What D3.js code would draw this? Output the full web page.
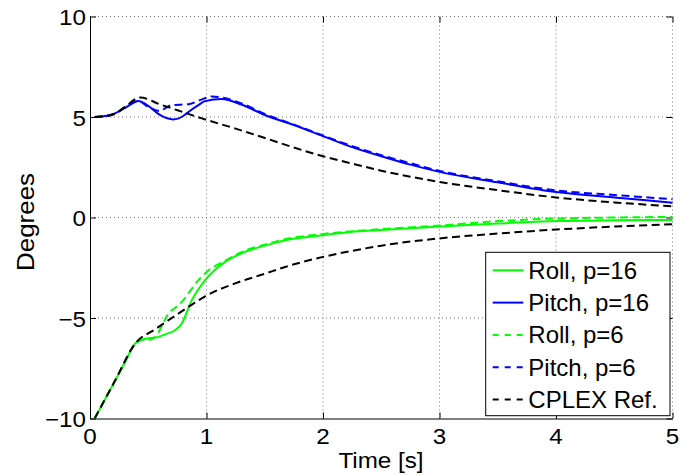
<!DOCTYPE html>
<html>
<head>
<meta charset="utf-8">
<script src="https://cdn.jsdelivr.net/npm/d3@7"></script>
<style>
  body { margin: 0; background: #fff; }
  text { font-family: "Liberation Sans", Arial, sans-serif; fill: #000; }
</style>
</head>
<body>
<div id="chart"></div>
<script>

var tRoll16  = [0.04, 0.12, 0.2, 0.3, 0.387, 0.458, 0.587, 0.65, 0.73, 0.788, 0.874, 0.988, 1.16, 1.33, 1.5, 1.675, 2.0, 2.23, 2.5, 3.0, 3.5, 4.0, 4.5, 5.0];
var roll16   = [-10, -9.14, -8.28, -7.2, -6.27, -6.07, -5.94, -5.8, -5.61, -5.27, -4.11, -3.12, -2.21, -1.71, -1.4, -1.13, -0.88, -0.72, -0.62, -0.45, -0.3, -0.18, -0.14, -0.12];

var tPitch16 = [0.04, 0.1, 0.21, 0.3, 0.415, 0.5, 0.6, 0.716, 0.8, 0.845, 0.92, 0.988, 1.13, 1.3, 1.5, 1.75, 2.0, 2.25, 2.5, 2.75, 3.0, 3.5, 4.0, 4.5, 5.0];
var pitch16  = [5.0, 5.02, 5.17, 5.45, 5.8, 5.55, 5.1, 4.88, 5.05, 5.25, 5.55, 5.79, 5.9, 5.62, 5.1, 4.6, 4.05, 3.5, 3.05, 2.63, 2.27, 1.75, 1.27, 1.0, 0.73];

var tRoll6   = [0.04, 0.12, 0.2, 0.3, 0.387, 0.458, 0.5, 0.573, 0.62, 0.673, 0.73, 0.788, 0.86, 0.93, 1.02, 1.16, 1.33, 1.5, 1.675, 2.0, 2.5, 3.0, 3.5, 4.0, 4.5, 5.0];
var roll6    = [-10, -9.14, -8.28, -7.2, -6.27, -6.07, -6.1, -5.86, -5.35, -4.78, -4.5, -4.2, -3.65, -3.12, -2.62, -2.15, -1.65, -1.35, -1.08, -0.82, -0.58, -0.4, -0.18, -0.05, 0.0, 0.03];

var tPitch6  = [0.04, 0.1, 0.21, 0.3, 0.415, 0.5, 0.6, 0.65, 0.7, 0.85, 0.95, 1.05, 1.13, 1.3, 1.5, 1.75, 2.0, 2.25, 2.5, 2.75, 3.0, 3.5, 4.0, 4.5, 5.0];
var pitch6   = [5.0, 5.02, 5.17, 5.45, 5.8, 5.5, 5.3, 5.45, 5.59, 5.64, 5.85, 6.02, 5.97, 5.68, 5.15, 4.62, 4.08, 3.55, 3.1, 2.7, 2.32, 1.8, 1.35, 1.12, 0.91];

var tCplexR  = [0.04, 0.2, 0.4, 0.55, 0.673, 0.845, 0.988, 1.245, 1.5, 1.675, 2.0, 2.25, 2.5, 3.0, 3.5, 4.0, 4.5, 5.0];
var cplexR   = [-10, -8.28, -6.19, -5.6, -5.11, -4.45, -3.92, -3.28, -2.8, -2.46, -1.96, -1.66, -1.4, -1.04, -0.8, -0.6, -0.45, -0.33];

var tCplexP  = [0.04, 0.1, 0.21, 0.3, 0.43, 0.6, 0.8, 0.96, 1.25, 1.53, 1.75, 2.0, 2.25, 2.5, 2.75, 3.0, 3.5, 4.0, 4.5, 5.0];
var cplexP   = [5.0, 5.02, 5.15, 5.5, 5.97, 5.63, 5.24, 4.93, 4.42, 3.9, 3.48, 3.05, 2.68, 2.33, 2.03, 1.77, 1.36, 1.0, 0.75, 0.56];

var xTicks = [0, 1, 2, 3, 4, 5];
var xTickLabels = ['0', '1', '2', '3', '4', '5'];
var yTicks = [-10, -5, 0, 5, 10];
var yTickLabels = ['\u221210', '\u22125', '0', '5', '10'];

var legendLabels = ['Roll, p=16', 'Pitch, p=16', 'Roll, p=6', 'Pitch, p=6', 'CPLEX Ref.'];

function pairs(t, v) {
  return t.map(function(d, i) { return [d, v[i]]; });
}

var series = [
  { name: legendLabels[0], pts: pairs(tRoll16, roll16),   color: '#00ff00', dash: null },
  { name: legendLabels[1], pts: pairs(tPitch16, pitch16), color: '#0000ff', dash: null },
  { name: legendLabels[2], pts: pairs(tRoll6, roll6),     color: '#00ff00', dash: '8,4.5' },
  { name: legendLabels[3], pts: pairs(tPitch6, pitch6),   color: '#0000ff', dash: '8,4.5' },
  { name: legendLabels[4], pts: pairs(tCplexR, cplexR),   color: '#000000', dash: '8,4.5' },
  { name: legendLabels[4], pts: pairs(tCplexP, cplexP),   color: '#000000', dash: '8,4.5' }
];

var width = 693;
var height = 475;
var margin = { top: 16.5, right: 20.5, bottom: 56.5, left: 90 };

var svg = d3.select('#chart')
  .append('svg')
  .attr('width', width)
  .attr('height', height);

var x = d3.scaleLinear().domain([0, 5]).range([margin.left, width - margin.right]);
var y = d3.scaleLinear().domain([-10, 10]).range([height - margin.bottom, margin.top]);

// dotted grid (also does the top and right box edges)
svg.append('g')
  .selectAll('line')
  .data(xTicks.slice(1))
  .enter()
  .append('line')
  .attr('x1', function(d) { return x(d); })
  .attr('x2', function(d) { return x(d); })
  .attr('y1', y(-10))
  .attr('y2', y(10))
  .attr('stroke', '#777')
  .attr('stroke-dasharray', '1,3');

svg.append('g')
  .selectAll('line')
  .data(yTicks.slice(1))
  .enter()
  .append('line')
  .attr('x1', x(0))
  .attr('x2', x(5))
  .attr('y1', function(d) { return y(d); })
  .attr('y2', function(d) { return y(d); })
  .attr('stroke', '#777')
  .attr('stroke-dasharray', '1,3');

// axes, ticks pointing inward
svg.append('g')
  .attr('transform', 'translate(0,' + y(-10) + ')')
  .call(d3.axisBottom(x).tickValues(xTicks).tickSizeInner(-6).tickSizeOuter(0).tickFormat(''));
svg.append('g')
  .attr('transform', 'translate(' + x(0) + ',0)')
  .call(d3.axisLeft(y).tickValues(yTicks).tickSizeInner(-6).tickSizeOuter(0).tickFormat(''));
svg.append('g')
  .attr('transform', 'translate(0,' + y(10) + ')')
  .call(d3.axisTop(x).tickValues(xTicks).tickSizeInner(-6).tickSizeOuter(0).tickFormat(''))
  .select('.domain').remove();
svg.append('g')
  .attr('transform', 'translate(' + x(5) + ',0)')
  .call(d3.axisRight(y).tickValues(yTicks).tickSizeInner(-6).tickSizeOuter(0).tickFormat(''))
  .select('.domain').remove();
svg.selectAll('.domain').attr('stroke', '#000').attr('stroke-width', 1);
svg.selectAll('.tick line').attr('stroke', '#000');

// tick labels
svg.append('g')
  .selectAll('text')
  .data(xTicks)
  .enter()
  .append('text')
  .attr('transform', function(d) { return 'translate(' + x(d) + ',444) scale(1.1,1)'; })
  .attr('text-anchor', 'middle')
  .style('font-size', '22px')
  .text(function(d, i) { return xTickLabels[i]; });

svg.append('g')
  .selectAll('text')
  .data(yTicks)
  .enter()
  .append('text')
  .attr('transform', function(d) { return 'translate(86,' + (y(d) + 8.5) + ') scale(1.1,1)'; })
  .attr('text-anchor', 'end')
  .style('font-size', '22px')
  .text(function(d, i) { return yTickLabels[i]; });

svg.append('text')
  .attr('transform', 'translate(381,467.5) scale(1.1,1)')
  .attr('text-anchor', 'middle')
  .style('font-size', '22px')
  .text('Time [s]');

svg.append('text')
  .attr('transform', 'translate(33.5,222) rotate(-90) scale(1.18,1.05)')
  .attr('text-anchor', 'middle')
  .style('font-size', '22px')
  .text('Degrees');

// curves
var line = d3.line()
  .x(function(d) { return x(d[0]); })
  .y(function(d) { return y(d[1]); })
  .curve(d3.curveMonotoneX);

svg.append('g')
  .selectAll('path')
  .data(series)
  .enter()
  .append('path')
  .attr('d', function(d) { return line(d.pts); })
  .attr('fill', 'none')
  .attr('stroke', function(d) { return d.color; })
  .attr('stroke-width', 2)
  .attr('stroke-dasharray', function(d) { return d.dash; });

// legend
var legendBox = { x: 485.7, y: 252.3, w: 184.3, h: 163.4 };
var legendRow = 32.3;

var legend = svg.append('g');
legend.append('rect')
  .attr('x', legendBox.x)
  .attr('y', legendBox.y)
  .attr('width', legendBox.w)
  .attr('height', legendBox.h)
  .attr('fill', '#fff')
  .attr('stroke', '#000');

var entry = legend.selectAll('.entry')
  .data(series.slice(0, 5))
  .enter()
  .append('g')
  .attr('class', 'entry')
  .attr('transform', function(d, i) {
    return 'translate(' + legendBox.x + ',' + (270.3 + i * legendRow) + ')';
  });

entry.append('line')
  .attr('x1', 7)
  .attr('x2', 37.6)
  .attr('stroke', function(d) { return d.color; })
  .attr('stroke-width', 2)
  .attr('stroke-dasharray', function(d) { return d.dash ? '6,6' : null; });

entry.append('text')
  .attr('x', 42.6)
  .attr('y', 8.5)
  .style('font-size', '24px')
  .text(function(d) { return d.name; });

</script>
</body>
</html>
